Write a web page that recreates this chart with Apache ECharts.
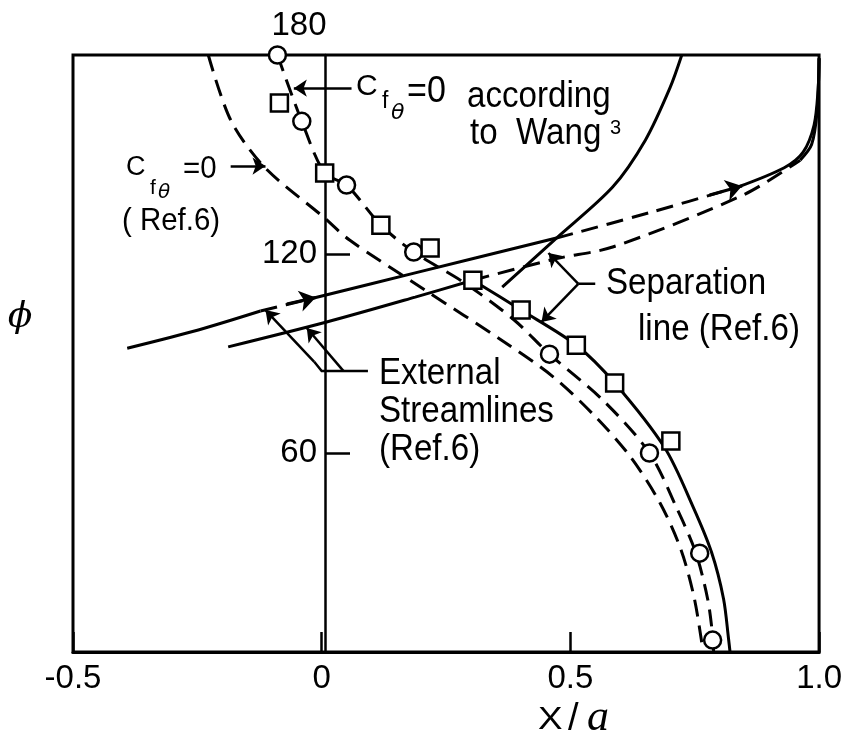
<!DOCTYPE html>
<html><head><meta charset="utf-8">
<script src="https://cdn.jsdelivr.net/npm/echarts@6/dist/echarts.min.js"></script>
<style>html,body{margin:0;padding:0;background:#fff}#c{width:845px;height:743px}</style>
</head><body><div id="c"></div>
<script>
// ---- data (x = X/a, y = phi in degrees) ----
const xTicks = [-0.5, 0, 0.5, 1.0];
const xTickLabels = ['-0.5', '0', '0.5', '1.0'];
const yTickLabels = ['60', '120'];

const wangCircles = [[-0.089,180],[-0.04,160],[0.05,140.8],[0.185,120.6],[0.458,89.8],[0.659,60],[0.76,29.8],[0.786,3.6]];
const squares = [[-0.085,165.5],[0.006,144.4],[0.119,128.7],[0.218,121.8],[0.304,112.1],[0.401,103.1],[0.512,92.5],[0.589,81.1],[0.702,63.6]];

const wangCurve = [[-0.089,180],[-0.04,160],[0.006,144.4],[0.05,140.8],[0.119,128.7],[0.185,120.6],[0.288,111.2],[0.387,100.1],[0.458,89.8],[0.565,76],[0.659,60],[0.712,44],[0.752,30],[0.776,16],[0.786,5],[0.788,0]];
const ref6Cf0 = [[-0.228,180],[-0.183,160.4],[-0.115,146.2],[0.004,131.1],[0.056,124.2],[0.208,109.1],[0.361,94.1],[0.466,82.9],[0.55,71],[0.62,59],[0.68,45],[0.722,31],[0.748,17],[0.763,4],[0.766,0]];
const sepMain = [[0.304,112.1],[0.401,103.1],[0.512,92.5],[0.589,81.1],[0.69,61.5],[0.746,44],[0.784,30],[0.808,16],[0.818,4],[0.821,0]];
const sepUpper = [[0.724,180],[0.70,170],[0.651,154.4],[0.585,140.2],[0.472,124.8],[0.363,110]];

const upperStreamSolidA = [[-0.391,91.6],[-0.248,97.1],[-0.123,102.8]];
const upperStreamDashA = [[-0.123,102.8],[-0.02,106.6]];
const upperStreamSolidB = [[-0.02,106.6],[0.188,114.3],[0.472,124.8]];
const upperStreamDashB = [[0.472,124.8],[0.66,132.5],[0.837,140.2]];
const upperStreamSolidC = [[0.837,140.2],[0.93,146],[0.968,150.7],[0.99,158.9],[0.998,169.4],[1.0,179]];

const lowerStreamSolidA = [[-0.188,92],[0.01,99.5],[0.188,107],[0.304,112.1]];
const lowerStreamDash = [[0.304,112.1],[0.472,118.6],[0.585,122.1],[0.849,137.9],[0.962,148.3]];
const lowerStreamSolidB = [[0.962,148.3],[0.985,153],[0.996,163],[1.0,179]];

const flowArrows = [[[-0.07,104.9],[-0.012,106.9]],[[0.78,137.8],[0.845,140.5]]];
const leaderArrows = [
  [[0.06,170],[-0.056,170]],
  [[-0.183,146.5],[-0.113,146.5]],
  [[0.516,111],[0.456,120.3]],
  [[0.516,111],[0.442,99.5]],
  [[0.044,84.7],[-0.03,97.7]],
  [[-0.015,87.5],[-0.113,103.1]]
];
const leaderPlain = [[[0.516,111],[0.55,111]],[[0.093,84.7],[0.044,84.7],[0.0,84.7],[-0.015,87.5]]];

// ---- chart ----
const LW = 3;
const F = 'Liberation Sans, Arial, sans-serif';
function lineS(data, dashed){
  return {type:'line', data, smooth:0.3, showSymbol:false, symbol:'none', z:3, silent:true,
    lineStyle:{color:'#000', width:LW, type: dashed ? [17,9] : 'solid', cap:'butt'}};
}
const series = [
  lineS(wangCurve, true), lineS(ref6Cf0, true), lineS(sepMain, false), lineS(sepUpper, false),
  lineS(upperStreamSolidA,false), lineS(upperStreamDashA,true), lineS(upperStreamSolidB,false),
  lineS(upperStreamDashB,true), lineS(upperStreamSolidC,false),
  lineS(lowerStreamSolidA,false), lineS(lowerStreamDash,true), lineS(lowerStreamSolidB,false),
  {type:'lines', coordinateSystem:'cartesian2d', z:4, silent:true,
   symbol:['none','arrow'], symbolSize:13,
   lineStyle:{color:'#000', width:2.5, curveness:0, opacity:1},
   data: leaderArrows.map(c=>({coords:c}))},
  {type:'lines', coordinateSystem:'cartesian2d', polyline:true, z:4, silent:true,
   lineStyle:{color:'#000', width:2.5, curveness:0, opacity:1},
   data: leaderPlain.map(c=>({coords:c}))},
  {type:'lines', coordinateSystem:'cartesian2d', z:4, silent:true,
   symbol:['none','arrow'], symbolSize:16,
   lineStyle:{color:'#000', width:3, curveness:0, opacity:1},
   data: flowArrows.map(c=>({coords:c}))},
  {type:'scatter', data: wangCircles, symbol:'circle', symbolSize:17, z:6, silent:true,
   itemStyle:{color:'#fff', borderColor:'#000', borderWidth:2.5, opacity:1}},
  {type:'scatter', data: squares, symbol:'rect', symbolSize:17, z:6, silent:true,
   itemStyle:{color:'#fff', borderColor:'#000', borderWidth:2.5, opacity:1}}
];

function txt(text, x, y, size, opts){
  opts = opts || {};
  return {type:'text', x, y, z:10, silent:true, scaleX: opts.sx || 1, scaleY: opts.sy || 1,
    style:{text, font: opts.font || (size+'px '+F), fill:'#000', align: opts.align || 'left', verticalAlign:'middle'}};
}
const S = 0.92;
const graphics = [
  txt('180', 299, 26, 33, {align:'center'}),
  txt('\u03D5', 20, 318, 36, {align:'center', font:'italic 36px DejaVu Serif, serif'}),
  // Cf=0 according to Wang
  txt('C', 356, 87, 30),
  txt('f', 382, 102, 23),
  txt('\u03B8', 391, 113, 22, {font:'italic 22px DejaVu Sans, sans-serif'}),
  txt('=0', 407, 92, 37, {sx:S}),
  txt('according', 467, 97, 36, {sx:S}),
  txt('to  Wang', 470, 134, 36, {sx:S}),
  txt('3', 610, 128, 20),
  // Cf=0 (Ref.6)
  txt('C', 126, 168, 27),
  txt('f', 150, 188, 21),
  txt('\u03B8', 158, 193, 20, {font:'italic 20px DejaVu Sans, sans-serif'}),
  txt('=0', 183, 169, 32, {sx:S}),
  txt('( Ref.6)', 122, 221, 32, {sx:S}),
  // Separation line
  txt('Separation', 606, 284, 36, {sx:S}),
  txt('line (Ref.6)', 638, 330, 36, {sx:S}),
  // External Streamlines
  txt('External', 379, 374, 36, {sx:S}),
  txt('Streamlines', 379, 412, 36, {sx:S}),
  txt('(Ref.6)', 379, 450, 36, {sx:S}),
  // axis name
  txt('X', 538, 720, 32, {sx:1.15}),
  txt('/', 568, 720, 38),
  txt('a', 587, 718, 44, {font:'italic 44px Liberation Serif, serif'})
];

const chart = echarts.init(document.getElementById('c'), null, {renderer:'canvas'});
chart.setOption({
  backgroundColor:'#fff',
  animation:false,
  grid:{left:73, right:16, top:55, bottom:91, show:true, borderColor:'#000', borderWidth:3, backgroundColor:'transparent'},
  xAxis:{type:'value', min:-0.5, max:1.0, interval:0.5,
    axisLine:{show:true, onZero:false, lineStyle:{color:'#000', width:3}},
    axisTick:{show:true, inside:true, length:20, lineStyle:{color:'#000', width:2.5}},
    splitLine:{show:false},
    axisLabel:{color:'#000', fontSize:33, fontFamily:F, margin:10,
      formatter:v=>{const i=xTicks.findIndex(t=>Math.abs(t-v)<1e-9); return i>=0?xTickLabels[i]:'';}}},
  yAxis:{type:'value', min:0, max:180, interval:60, offset:-252,
    axisLine:{show:true, onZero:false, lineStyle:{color:'#000', width:2.5}},
    axisTick:{show:true, inside:true, length:25, lineStyle:{color:'#000', width:2.5}},
    splitLine:{show:false},
    axisLabel:{color:'#000', fontSize:33, fontFamily:F, margin:8, showMinLabel:false, showMaxLabel:false,
      formatter:v=>{const s=String(v); return yTickLabels.indexOf(s)>=0?s:'';}}},
  series,
  graphic: graphics
});
</script></body></html>
